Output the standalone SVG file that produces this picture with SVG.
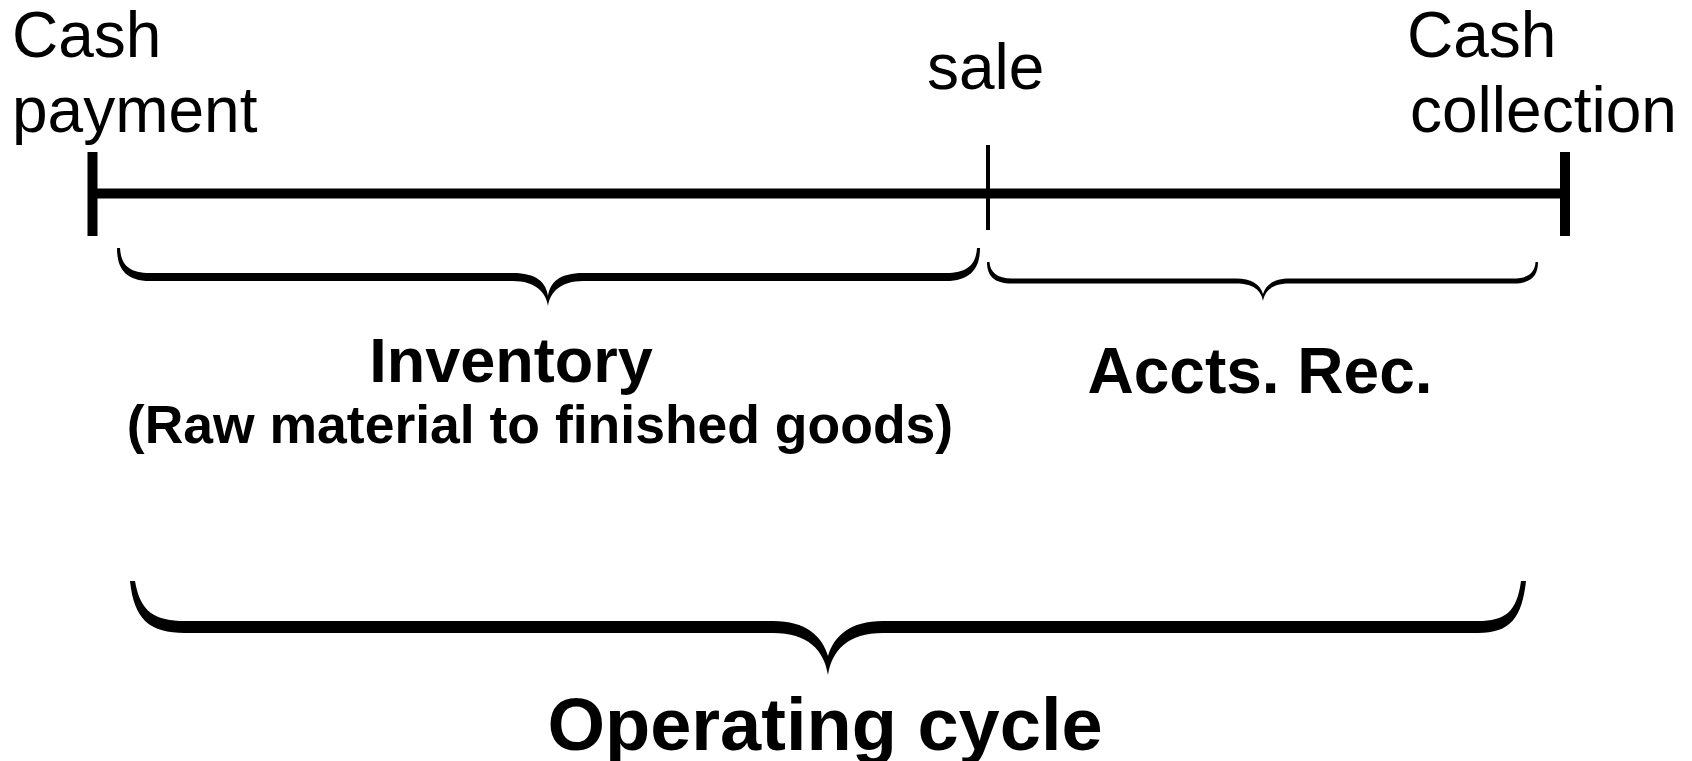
<svg xmlns="http://www.w3.org/2000/svg" width="1692" height="761" viewBox="0 0 1692 761">
<style>
  .reg { font-family: "Liberation Sans", Arial, sans-serif; font-size: 64px; fill: #000; }
  .bold { font-family: "Liberation Sans", Arial, sans-serif; font-weight: bold; fill: #000; text-anchor: middle; }
  .brace { fill: #000; stroke: none; }
  .tl { stroke: #000; fill: none; }
</style>
<rect x="0" y="0" width="1692" height="761" fill="#ffffff"/>
<g id="timeline">
  <line class="tl" x1="92" y1="193.5" x2="1565" y2="193.5" stroke-width="10"/>
  <line class="tl" x1="92.5" y1="152" x2="92.5" y2="236" stroke-width="10"/>
  <line class="tl" x1="1565" y1="152" x2="1565" y2="236" stroke-width="10"/>
  <line class="tl" x1="988" y1="145" x2="988" y2="230" stroke-width="4"/>
</g>
<g id="label-cash-payment">
  <text class="reg" x="12" y="57">Cash</text>
  <text class="reg" x="12" y="132">payment</text>
</g>
<g id="label-sale">
  <text class="reg" x="927" y="89">sale</text>
</g>
<g id="label-cash-collection">
  <text class="reg" x="1407" y="57">Cash</text>
  <text class="reg" x="1410" y="132">collection</text>
</g>
<g id="brace-inventory">
  <path class="brace" d="M117,248 C117,268 125,281 150,281 L513,281 C535,281 546,292 548,306 C550,292 561,281 583,281 L946,281 C971,281 980,268 980,248 L977,248 C976,264 968,273 946,273 L583,273 C560,273 550,282 548,296 C546,282 536,273 513,273 L150,273 C128,273 121,264 120,248 Z"/>
  <text class="bold" x="511" y="382" font-size="63">Inventory</text>
  <text class="bold" x="540" y="443" font-size="53.5">(Raw material to finished goods)</text>
</g>
<g id="brace-ar">
  <path class="brace" d="M987,262 C987,276 994,283.5 1012,283.5 L1236,283.5 C1253,283.5 1261,290 1263,301 C1265,290 1273,283.5 1290,283.5 L1513,283.5 C1531,283.5 1538,276 1538,262 L1535.5,262 C1535,272 1529,278.5 1513,278.5 L1290,278.5 C1275,278.5 1266,284 1263,294 C1260,284 1251,278.5 1236,278.5 L1012,278.5 C997,278.5 990,272 989.5,262 Z"/>
  <text class="bold" x="1260" y="393" font-size="64">Accts. Rec.</text>
</g>
<g id="brace-operating">
  <path class="brace" d="M130,581 C134,620 150,633 185,633 L773,633 C808,633 824,650 828,675 C832,650 848,633 883,633 L1478,633 C1510,633 1522,618 1526,581 L1521,581 C1517,612 1505,621 1478,621 L883,621 C850,621 834,636 828,656 C822,636 806,621 773,621 L185,621 C155,621 140,612 135,581 Z"/>
  <text class="bold" x="825" y="750" font-size="74">Operating cycle</text>
</g>
</svg>
